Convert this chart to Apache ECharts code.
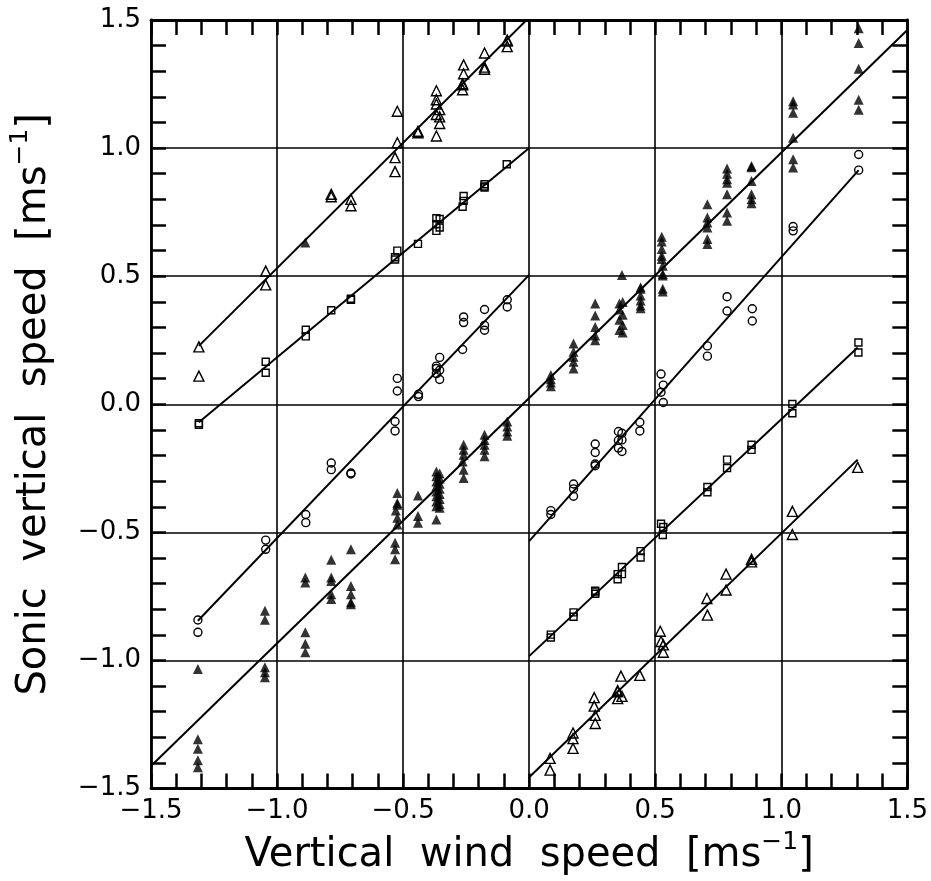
<!DOCTYPE html>
<html>
<head>
<meta charset="utf-8">
<script src="https://cdn.jsdelivr.net/npm/echarts@6/dist/echarts.min.js"></script>
<style>
html,body{margin:0;padding:0;background:#fff;}
#chart{width:931px;height:881px;}
</style>
</head>
<body>
<div id="chart"></div>
<script>
// ---- tick labels ----
const xTickValues = [-1.5, -1.0, -0.5, 0.0, 0.5, 1.0, 1.5];
const yTickValues = [-1.5, -1.0, -0.5, 0.0, 0.5, 1.0, 1.5];
const tickLabels = ['\u22121.5', '\u22121.0', '\u22120.5', '0.0', '0.5', '1.0', '1.5'];

// ---- open triangles (upper-left group, offset +1.5) ----
const openTriUpper = [
  [-1.31, 0.224], [-1.31, 0.11],
  [-1.045, 0.52], [-1.045, 0.466],
  [-0.785, 0.82], [-0.785, 0.81],
  [-0.707, 0.80], [-0.707, 0.775],
  [-0.523, 1.144], [-0.523, 1.021], [-0.532, 0.963], [-0.532, 0.908],
  [-0.441, 1.06], [-0.441, 1.066],
  [-0.368, 1.224], [-0.368, 1.189], [-0.368, 1.172], [-0.355, 1.150], [-0.368, 1.131],
  [-0.355, 1.122], [-0.355, 1.096], [-0.368, 1.047],
  [-0.26, 1.325], [-0.26, 1.29], [-0.264, 1.251], [-0.264, 1.247], [-0.264, 1.228],
  [-0.177, 1.371], [-0.177, 1.316], [-0.177, 1.308],
  [-0.087, 1.422], [-0.087, 1.418], [-0.087, 1.396]
];
// ---- open triangles (lower-right group, offset -1.5) ----
const openTriLower = [
  [0.083, -1.382], [0.083, -1.428],
  [0.174, -1.283], [0.174, -1.305], [0.174, -1.343],
  [0.258, -1.145], [0.258, -1.178], [0.262, -1.214], [0.262, -1.246],
  [0.364, -1.061], [0.351, -1.117], [0.351, -1.122], [0.351, -1.149], [0.368, -1.14],
  [0.439, -1.058],
  [0.52, -0.886], [0.523, -0.926], [0.532, -0.939], [0.532, -0.968],
  [0.705, -0.758], [0.707, -0.823],
  [0.781, -0.663], [0.781, -0.725],
  [0.882, -0.605], [0.882, -0.615],
  [1.044, -0.418], [1.044, -0.508],
  [1.303, -0.246]
];
// ---- open squares ----
const squareUpper = [
  [-1.31, -0.074], [-1.31, -0.08],
  [-1.045, 0.166], [-1.045, 0.123],
  [-0.886, 0.291], [-0.886, 0.265],
  [-0.785, 0.367],
  [-0.707, 0.412], [-0.707, 0.408],
  [-0.523, 0.6], [-0.532, 0.574], [-0.532, 0.565],
  [-0.441, 0.626],
  [-0.368, 0.726], [-0.355, 0.723], [-0.368, 0.703], [-0.355, 0.69], [-0.368, 0.677],
  [-0.26, 0.813], [-0.26, 0.794], [-0.264, 0.771],
  [-0.177, 0.859], [-0.177, 0.846], [-0.177, 0.85],
  [-0.089, 0.937]
];
const squareLower = [
  [0.086, -0.899], [0.086, -0.91],
  [0.176, -0.812], [0.176, -0.829],
  [0.262, -0.728], [0.262, -0.74], [0.262, -0.734],
  [0.351, -0.663], [0.351, -0.683], [0.368, -0.635], [0.368, -0.663],
  [0.442, -0.573], [0.442, -0.598],
  [0.523, -0.466], [0.532, -0.479], [0.53, -0.51],
  [0.707, -0.323], [0.707, -0.343],
  [0.785, -0.216], [0.785, -0.249],
  [0.882, -0.158], [0.882, -0.178],
  [1.044, 0.001], [1.044, -0.035],
  [1.306, 0.241], [1.306, 0.202]
];
// ---- open circles ----
const circleUpper = [
  [-1.314, -0.842], [-1.314, -0.89],
  [-1.045, -0.53], [-1.045, -0.566],
  [-0.886, -0.43], [-0.886, -0.462],
  [-0.785, -0.229], [-0.785, -0.255],
  [-0.707, -0.268], [-0.707, -0.272],
  [-0.523, 0.101], [-0.523, 0.052], [-0.532, -0.067], [-0.532, -0.104],
  [-0.439, 0.039], [-0.439, 0.03],
  [-0.368, 0.149], [-0.355, 0.183], [-0.368, 0.14], [-0.355, 0.133], [-0.368, 0.12], [-0.355, 0.097],
  [-0.26, 0.341], [-0.26, 0.319], [-0.264, 0.214],
  [-0.177, 0.37], [-0.177, 0.308], [-0.177, 0.289],
  [-0.087, 0.408], [-0.087, 0.38]
];
const circleLower = [
  [0.086, -0.415], [0.086, -0.43],
  [0.176, -0.311], [0.176, -0.33], [0.176, -0.359],
  [0.262, -0.155], [0.262, -0.188], [0.262, -0.233], [0.262, -0.24],
  [0.354, -0.106], [0.368, -0.113], [0.354, -0.141], [0.368, -0.139], [0.354, -0.171], [0.368, -0.184],
  [0.439, -0.07], [0.439, -0.104],
  [0.523, 0.118], [0.532, 0.075], [0.523, 0.047], [0.532, 0.007],
  [0.707, 0.228], [0.707, 0.188],
  [0.785, 0.42], [0.785, 0.364],
  [0.885, 0.373], [0.885, 0.325],
  [1.047, 0.694], [1.047, 0.677],
  [1.307, 0.975], [1.307, 0.914]
];
// ---- filled triangles (central group) ----
const filledTri = [
  [-0.888, 0.632],
  [-1.314, -1.033], [-1.314, -1.307], [-1.314, -1.344], [-1.314, -1.389], [-1.314, -1.417],
  [-1.048, -0.806], [-1.048, -0.841], [-1.048, -1.026], [-1.048, -1.046], [-1.048, -1.065],
  [-0.888, -0.676], [-0.888, -0.696], [-0.888, -0.89], [-0.888, -0.935], [-0.888, -0.968],
  [-0.785, -0.607], [-0.785, -0.676], [-0.785, -0.69], [-0.785, -0.741], [-0.785, -0.76],
  [-0.707, -0.566], [-0.707, -0.709], [-0.707, -0.741], [-0.707, -0.773], [-0.707, -0.78],
  [-0.532, -0.54], [-0.532, -0.566], [-0.532, -0.605],
  [-0.523, -0.346], [-0.523, -0.385], [-0.523, -0.392], [-0.529, -0.415], [-0.523, -0.443], [-0.523, -0.469],
  [-0.441, -0.356], [-0.441, -0.436], [-0.441, -0.462],
  [-0.368, -0.262], [-0.368, -0.281], [-0.368, -0.301], [-0.368, -0.320], [-0.368, -0.340],
  [-0.368, -0.359], [-0.368, -0.379], [-0.368, -0.398], [-0.368, -0.45],
  [-0.355, -0.27], [-0.355, -0.29], [-0.355, -0.31], [-0.355, -0.33], [-0.355, -0.35],
  [-0.355, -0.37], [-0.355, -0.39], [-0.355, -0.404],
  [-0.26, -0.158], [-0.26, -0.177], [-0.26, -0.197], [-0.264, -0.223], [-0.26, -0.255], [-0.26, -0.288],
  [-0.177, -0.119], [-0.177, -0.139], [-0.177, -0.158], [-0.177, -0.177], [-0.177, -0.203],
  [-0.087, -0.067], [-0.087, -0.087], [-0.087, -0.106], [-0.087, -0.123],
  [0.086, 0.114], [0.086, 0.098], [0.086, 0.085], [0.086, 0.07],
  [0.176, 0.237], [0.176, 0.205], [0.176, 0.186], [0.176, 0.166], [0.176, 0.14],
  [0.262, 0.393], [0.262, 0.347], [0.262, 0.302], [0.262, 0.269], [0.262, 0.25],
  [0.358, 0.393], [0.371, 0.399], [0.358, 0.37], [0.371, 0.35], [0.358, 0.33], [0.371, 0.31],
  [0.358, 0.29], [0.371, 0.28], [0.368, 0.505],
  [0.442, 0.457], [0.442, 0.451], [0.442, 0.425], [0.442, 0.405], [0.442, 0.386], [0.442, 0.375],
  [0.526, 0.654], [0.526, 0.635], [0.526, 0.606], [0.526, 0.58], [0.526, 0.567], [0.53, 0.541],
  [0.53, 0.509], [0.53, 0.503], [0.53, 0.451], [0.53, 0.44],
  [0.707, 0.781], [0.707, 0.729], [0.707, 0.71], [0.707, 0.69], [0.707, 0.645], [0.707, 0.626],
  [0.785, 0.92], [0.785, 0.9], [0.785, 0.878], [0.785, 0.865], [0.785, 0.82], [0.785, 0.749], [0.785, 0.716],
  [0.882, 0.93], [0.882, 0.925], [0.882, 0.872], [0.882, 0.82], [0.882, 0.80], [0.882, 0.785],
  [1.047, 1.183], [1.047, 1.17], [1.047, 1.138], [1.047, 1.04], [1.047, 0.956], [1.047, 0.924],
  [1.307, 1.468], [1.307, 1.41], [1.307, 1.31], [1.307, 1.189], [1.307, 1.15]
];
// ---- fitted lines (end points) ----
const fitTriUpper    = [[-1.31, 0.228], [0.0, 1.51]];
const fitSquareUpper = [[-1.31, -0.07], [0.0, 1.0]];
const fitCircleUpper = [[-1.314, -0.845], [0.0, 0.505]];
const fitFilledTri   = [[-1.5, -1.412], [1.5, 1.461]];
const fitCircleLower = [[0.0, -0.534], [1.307, 0.914]];
const fitSquareLower = [[0.0, -0.983], [1.303, 0.222]];
const fitTriLower    = [[0.0, -1.456], [1.303, -0.216]];

const chart = echarts.init(document.getElementById('chart'), null, {renderer: 'canvas'});

const TICK_FONT = 'DejaVu Sans';
const TITLE_FONT = 'DejaVu Sans';

function fmt(v) {
  const vals = xTickValues;
  for (let i = 0; i < vals.length; i++) {
    if (Math.abs(vals[i] - v) < 1e-6) return tickLabels[i];
  }
  return '';
}

function axisCommon(showLabel, showSplit) {
  return {
    type: 'value', min: -1.5, max: 1.5, interval: 0.5,
    axisLine: {show: true, onZero: false, lineStyle: {color: '#000', width: 2.8}},
    axisTick: {show: true, inside: true, length: 15, lineStyle: {color: '#000', width: 2.5}},
    minorTick: {show: true, splitNumber: 5, length: 15, lineStyle: {color: '#000', width: 2.5}},
    splitLine: {show: showSplit, lineStyle: {color: '#000', width: 1.6}},
    minorSplitLine: {show: false},
    axisLabel: {
      show: showLabel, formatter: fmt, color: '#000',
      fontFamily: TICK_FONT, fontSize: 26, margin: 10
    }
  };
}

const titleRich = {
  a: {fontFamily: TITLE_FONT, fontSize: 40, color: '#000'},
  sup: {fontFamily: TITLE_FONT, fontSize: 25, color: '#000', padding: [0, 0, 28, 0]}
};

const xBottom = Object.assign(axisCommon(true, true), {
  position: 'bottom',
  name: '{a|Vertical  wind  speed  [ms}{sup|\u22121}{a|]}',
  nameLocation: 'middle', nameGap: 40,
  nameTextStyle: {rich: titleRich}
});
const xTop = Object.assign(axisCommon(false, false), {position: 'top'});
const yLeft = Object.assign(axisCommon(true, true), {
  position: 'left',
  name: '{a|Sonic  vertical  speed  [ms}{sup|\u22121}{a|]}',
  nameLocation: 'middle', nameGap: 90, nameRotate: 90,
  nameTextStyle: {rich: titleRich}
});
const yRight = Object.assign(axisCommon(false, false), {position: 'right'});

function openScatter(data, symbol, size) {
  return {
    type: 'scatter', data: data, symbol: symbol, symbolSize: size,
    xAxisIndex: 0, yAxisIndex: 0, silent: true,
    itemStyle: {color: 'rgba(0,0,0,0)', borderColor: '#000', borderWidth: 1.4, opacity: 1}
  };
}
function fitLine(data) {
  return {
    type: 'line', data: data, symbol: 'none', xAxisIndex: 0, yAxisIndex: 0,
    lineStyle: {color: '#000', width: 2}, silent: true, clip: true, z: 3
  };
}

chart.setOption({
  animation: false,
  backgroundColor: '#fff',
  grid: {left: 145, right: 15, top: 20, bottom: 90, containLabel: false},
  xAxis: [xBottom, xTop],
  yAxis: [yLeft, yRight],
  series: [
    fitLine(fitTriUpper), fitLine(fitSquareUpper), fitLine(fitCircleUpper),
    fitLine(fitFilledTri), fitLine(fitCircleLower), fitLine(fitSquareLower), fitLine(fitTriLower),
    openScatter(openTriUpper, 'triangle', 10),
    openScatter(openTriLower, 'triangle', 10),
    openScatter(squareUpper, 'rect', 7),
    openScatter(squareLower, 'rect', 7),
    openScatter(circleUpper, 'circle', 8),
    openScatter(circleLower, 'circle', 8),
    {
      type: 'scatter', data: filledTri, symbol: 'triangle', symbolSize: 10,
      xAxisIndex: 0, yAxisIndex: 0, silent: true,
      itemStyle: {color: '#000'}
    }
  ]
});
</script>
</body>
</html>
